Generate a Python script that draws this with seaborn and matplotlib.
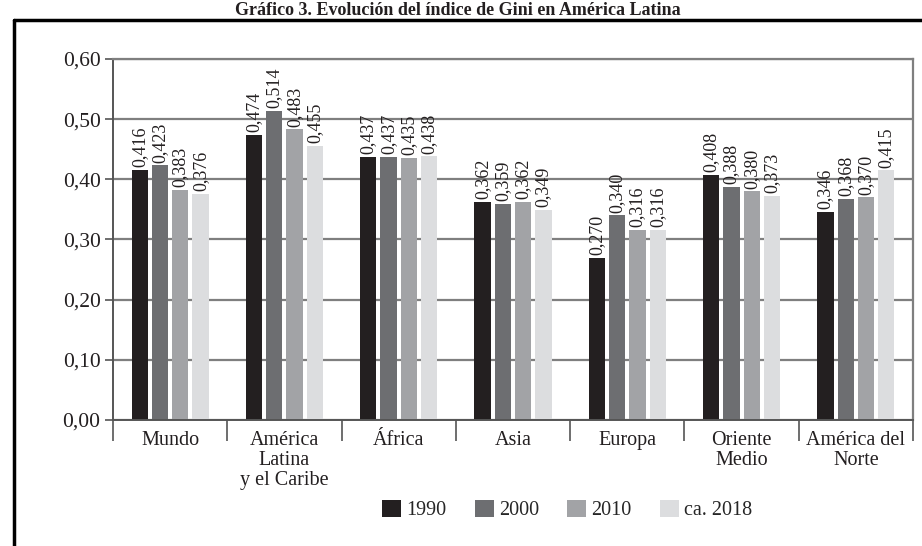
import pandas as pd
import matplotlib.pyplot as plt
import seaborn as sns
from matplotlib.lines import Line2D
from matplotlib.ticker import FixedLocator

regions = ["Mundo", "América\nLatina\ny el Caribe", "África", "Asia", "Europa",
           "Oriente\nMedio", "América del\nNorte"]
years = ["1990", "2000", "2010", "ca. 2018"]
gini_1990 = [0.416, 0.474, 0.437, 0.362, 0.270, 0.408, 0.346]
gini_2000 = [0.423, 0.514, 0.437, 0.359, 0.340, 0.388, 0.368]
gini_2010 = [0.383, 0.483, 0.435, 0.362, 0.316, 0.380, 0.370]
gini_2018 = [0.376, 0.455, 0.438, 0.349, 0.316, 0.373, 0.415]
colors = ["#231f20", "#6d6e71", "#a2a3a6", "#dcdddf"]

rows = []
for year, vals in zip(years, [gini_1990, gini_2000, gini_2010, gini_2018]):
    for reg, v in zip(regions, vals):
        rows.append({"Region": reg, "Año": year, "Gini": v})
df = pd.DataFrame(rows)

sns.set_style("white")
plt.rcParams["font.family"] = ["Liberation Serif", "DejaVu Serif"]

fig = plt.figure(figsize=(9.22, 5.46), dpi=100)
ax = fig.add_axes([113 / 922, 1 - 420 / 546, 800 / 922, 361 / 546])

sns.barplot(data=df, x="Region", y="Gini", hue="Año", palette=colors,
            width=0.71, gap=0.2, saturation=1, ax=ax, linewidth=0)

for cont in ax.containers:
    labs = [f"{b.get_height():.3f}".replace(".", ",") for b in cont]
    ax.bar_label(cont, labels=labs, rotation=90, padding=2, fontsize=13, color="#231f20")

ax.set_ylim(0, 0.6)
ax.set_xlim(-0.5, 6.5)
yt = [0, 0.1, 0.2, 0.3, 0.4, 0.5, 0.6]
ax.set_yticks(yt)
ax.set_yticklabels([f"{t:.2f}".replace(".", ",") for t in yt], fontsize=15.5, color="#231f20")
ax.yaxis.grid(True, color="#7f7f7f", linewidth=1.6)
ax.set_axisbelow(True)
ax.tick_params(axis="y", length=6, width=1.2, color="#555555", pad=3, left=True)
ax.tick_params(axis="x", which="major", length=0, labelsize=14.5, pad=8, colors="#231f20")
ax.xaxis.set_minor_locator(FixedLocator([i - 0.5 for i in range(8)]))
ax.tick_params(axis="x", which="minor", length=15, width=1.2, color="#555555", bottom=True)
for lab in ax.get_xticklabels():
    lab.set_linespacing(1.05)
ax.set_xlabel("")
ax.set_ylabel("")

for s in ["left", "bottom"]:
    ax.spines[s].set_color("#555555")
    ax.spines[s].set_linewidth(1.4)
for s in ["top", "right"]:
    ax.spines[s].set_color("#7f7f7f")
    ax.spines[s].set_linewidth(1.6)

handles, labels = ax.get_legend_handles_labels()
ax.legend(handles, labels, loc="center", bbox_to_anchor=(567 / 922, 1 - 510 / 546),
          bbox_transform=fig.transFigure, ncol=4, frameon=False, fontsize=14.5,
          handlelength=0.95, handleheight=0.95, handletextpad=0.25, columnspacing=1.4)

# outer frame and title
fig.add_artist(Line2D([14 / 922, 1.0], [1 - 20 / 546, 1 - 20 / 546],
                      transform=fig.transFigure, color="black", linewidth=2.5))
fig.add_artist(Line2D([14 / 922, 14 / 922], [0, 1 - 20 / 546],
                      transform=fig.transFigure, color="black", linewidth=2.5))
fig.text(458 / 922, 1 - 15 / 546, "Gráfico 3. Evolución del índice de Gini en América Latina",
         ha="center", va="baseline", fontsize=13, fontweight="bold", color="#231f20")

fig.savefig("out.png", dpi=100)
